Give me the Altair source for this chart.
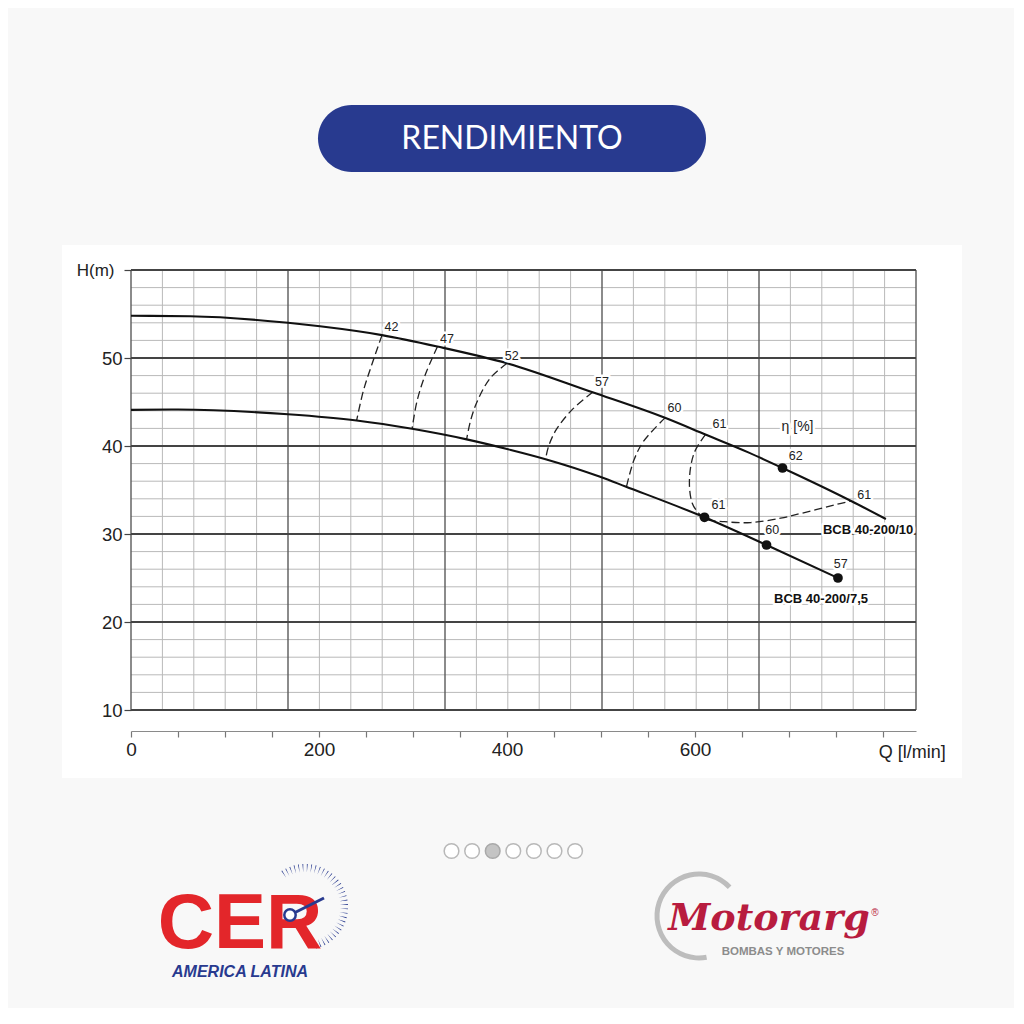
import altair as alt
import pandas as pd

# ---------------- data ----------------
# H-Q curve BCB 40-200/10 (upper)
Q_10 = [0, 63, 167, 201, 267, 326, 400, 491, 568, 611, 656, 693, 766, 803]
H_10 = [54.8, 54.75, 54.0, 53.6, 52.6, 51.3, 49.4, 46.1, 43.2, 41.3, 39.3, 37.5, 33.75, 31.7]
# H-Q curve BCB 40-200/7,5 (lower)
Q_75 = [0, 50, 167, 240, 299, 357, 404, 441, 499, 526, 610, 676, 752]
H_75 = [44.1, 44.15, 43.6, 42.9, 41.95, 40.75, 39.55, 38.5, 36.5, 35.4, 31.9, 28.75, 25.0]

# marked points
DOT_Q = [693, 610, 676, 752]
DOT_H = [37.5, 31.9, 28.75, 25.0]

# iso-efficiency (dashed) lines
ETA_LINES = {
    "42": ([267, 256, 247, 240], [52.6, 49.2, 46.2, 42.9]),
    "47": ([326, 313, 304, 299], [51.3, 48.1, 45.0, 41.95]),
    "52": ([400, 382, 368, 361, 357], [49.4, 47.7, 45.0, 42.8, 40.75]),
    "57": ([491, 469, 452, 444, 441], [46.1, 44.1, 41.8, 39.9, 38.5]),
    "60": ([568, 545, 535, 527], [43.2, 40.5, 38.4, 35.35]),
    "61": ([611, 599, 594, 597, 604, 611, 631, 659, 691, 713, 748, 766],
           [41.3, 39.2, 36.1, 33.5, 32.35, 31.7, 31.4, 31.3, 31.8, 32.35, 33.3, 33.75]),
}

# efficiency number labels
LABEL_TEXT = ["42", "47", "52", "57", "60", "61", "62", "61", "61", "60", "57"]
LABEL_Q = [277, 336, 405, 501, 578, 626, 707, 780, 625, 682, 755]
LABEL_H = [53.5, 52.2, 50.2, 47.3, 44.3, 42.5, 38.9, 34.4, 33.3, 30.45, 26.6]

CURVE_NAMES = ["BCB 40-200/10", "BCB 40-200/7,5"]
CURVE_LABEL_Q = [784, 734]
CURVE_LABEL_H = [30.45, 22.6]

ETA_TITLE = "η [%]"
ETA_TITLE_Q = [709]
ETA_TITLE_H = [42.2]

X_TITLE = "Q [l/min]"
X_TITLE_Q = [831]

X_TICKS = list(range(0, 801, 50))
Y_TICKS = [10, 20, 30, 40, 50, 60]
Q_MAX = 835
N_COLS = 25
V_GRID = [k * Q_MAX / N_COLS for k in range(N_COLS + 1)]
V_MAJOR = [k % 5 == 0 for k in range(N_COLS + 1)]
H_GRID = list(range(10, 61, 2))
H_MAJOR = [v % 10 == 0 for v in H_GRID]

PAGE_TITLE = "RENDIMIENTO"
PAGE_COUNT = 7
ACTIVE_PAGE = 2
DIAL_TICKS = [1] * 34

# ---------------- styling ----------------
FONT = "Liberation Sans"
NARROW = "Liberation Sans Narrow, Liberation Sans, sans-serif"
W, H = 785, 440
BLUE = "#283a8f"

xs = alt.Scale(domain=[0, Q_MAX], nice=False, zero=False)
ys = alt.Scale(domain=[10, 60], nice=False, zero=False)

x_axis = alt.Axis(values=X_TICKS, title=None, offset=21, zindex=2,
                  labelExpr="(datum.value % 200 == 0 && datum.value < 700) ? datum.label : ''",
                  domainColor="#8a8a8a", domainWidth=1.2, tickColor="#777", tickSize=6,
                  tickWidth=1.2, labelFont=FONT, labelFontSize=19, labelColor="#222",
                  labelPadding=3, grid=False, labelFlush=False, labelOverlap=False)
y_axis = alt.Axis(values=Y_TICKS, title=None, domain=False, zindex=2,
                  labelExpr="datum.value == 60 ? 'H(m)' : datum.label",
                  tickColor="#444", tickSize=7, tickWidth=1.2, labelFont=FONT,
                  labelFontSize=alt.condition("datum.value == 60", alt.value(17), alt.value(18.5)),
                  labelPadding=alt.condition("datum.value == 60", alt.value(10), alt.value(2)),
                  labelColor="#222", grid=False,
                  labelFlush=False, labelOverlap=False)


def X(f="q"):
    return alt.X(f"{f}:Q", scale=xs, axis=x_axis)


def Y(f="h"):
    return alt.Y(f"{f}:Q", scale=ys, axis=y_axis)


one = alt.Data(values=[{"a": 1}])

layers = []

# white panel
layers.append(alt.Chart(one).mark_rect(color="white").encode(
    x=alt.value(-69), x2=alt.value(831), y=alt.value(-25), y2=alt.value(508)))

# title banner
layers.append(alt.Chart(one).mark_rect(color=BLUE, cornerRadius=33.5).encode(
    x=alt.value(187), x2=alt.value(575), y=alt.value(-165), y2=alt.value(-98)))
layers.append(alt.Chart(one).mark_text(text=PAGE_TITLE, font="Lato", fontSize=32,
                                       color="white", align="center", baseline="middle").encode(
    x=alt.value(381), y=alt.value(-131)))

# grid
vg = pd.DataFrame({"q": V_GRID, "major": V_MAJOR})
hg = pd.DataFrame({"h": H_GRID, "major": H_MAJOR})
layers.append(alt.Chart(vg[~vg.major]).mark_rule(color="#b9b9b9", strokeWidth=1).encode(x=X()))
layers.append(alt.Chart(hg[~hg.major]).mark_rule(color="#b9b9b9", strokeWidth=1).encode(y=Y()))
layers.append(alt.Chart(vg[vg.major]).mark_rule(color="#5a5a5a", strokeWidth=1.4).encode(x=X()))
layers.append(alt.Chart(hg[hg.major]).mark_rule(color="#444", strokeWidth=1.8).encode(y=Y()))

# dashed iso-efficiency lines
rows = []
for name, (qs, hs) in ETA_LINES.items():
    for i, (q, h) in enumerate(zip(qs, hs)):
        rows.append({"eta": name, "i": i, "q": q, "h": h})
eta_df = pd.DataFrame(rows)
layers.append(alt.Chart(eta_df).mark_line(color="#222", strokeWidth=1.3, strokeDash=[8, 4],
                                          interpolate="catmull-rom").encode(
    x=X(), y=Y(), detail="eta:N", order="i:Q"))

# H-Q curves
curves = pd.concat([
    pd.DataFrame({"curve": CURVE_NAMES[0], "q": Q_10, "h": H_10}),
    pd.DataFrame({"curve": CURVE_NAMES[1], "q": Q_75, "h": H_75}),
])
layers.append(alt.Chart(curves).mark_line(color="#111", strokeWidth=2.1, interpolate="monotone").encode(
    x=X(), y=Y(), detail="curve:N"))

# dots
layers.append(alt.Chart(pd.DataFrame({"q": DOT_Q, "h": DOT_H})).mark_circle(
    color="#111", size=95, opacity=1).encode(x=X(), y=Y()))

# labels with white halo
lab = pd.DataFrame({"t": LABEL_TEXT, "q": LABEL_Q, "h": LABEL_H})
for halo in (True, False):
    kw = dict(stroke="white", strokeWidth=5, strokeJoin="round") if halo else {}
    layers.append(alt.Chart(lab).mark_text(font=FONT, fontSize=12.5, color="#222",
                                           align="center", baseline="middle", **kw).encode(
        x=X(), y=Y(), text="t:N"))
    layers.append(alt.Chart(pd.DataFrame({"t": [ETA_TITLE], "q": ETA_TITLE_Q, "h": ETA_TITLE_H}))
                  .mark_text(font=FONT, fontSize=14, color="#222", align="center",
                             baseline="middle", **kw).encode(x=X(), y=Y(), text="t:N"))
    layers.append(alt.Chart(pd.DataFrame({"t": CURVE_NAMES, "q": CURVE_LABEL_Q, "h": CURVE_LABEL_H}))
                  .mark_text(font=NARROW, fontSize=13, fontWeight="bold", color="#111",
                             align="center", baseline="middle", **kw).encode(
        x=X(), y=Y(), text="t:N"))

# x axis title at the right end of the ruler
layers.append(alt.Chart(pd.DataFrame({"t": [X_TITLE], "q": X_TITLE_Q})).mark_text(
    font=FONT, fontSize=18, color="#222", align="center", baseline="middle").encode(
    x=X(), y=alt.value(483), text="t:N"))

# pagination dots
for i in range(PAGE_COUNT):
    active = i == ACTIVE_PAGE
    layers.append(alt.Chart(one).mark_point(
        shape="circle", size=215, filled=True,
        fill="#c4c4c4" if active else "#ffffff",
        stroke="#a9a9a9" if active else "#b8b8b8", strokeWidth=1.5, opacity=1).encode(
        x=alt.value(320.5 + 20.6 * i), y=alt.value(581)))

# CER logo
layers.append(alt.Chart(pd.DataFrame({"v": DIAL_TICKS})).mark_arc(
    innerRadius=35, outerRadius=43, padAngle=0.065, color=BLUE).encode(
    theta=alt.Theta("v:Q", stack=True, scale=alt.Scale(range=[5.66, 9.2])),
    x=alt.value(174), y=alt.value(637)))
layers.append(alt.Chart(one).mark_text(text="CER", font=NARROW, fontSize=78, fontWeight="bold",
                                       color="#e3262a", align="center", baseline="alphabetic").encode(
    x=alt.value(109), y=alt.value(678)))
layers.append(alt.Chart(one).mark_rule(color=BLUE, strokeWidth=3).encode(
    x=alt.value(159), y=alt.value(645), x2=alt.value(193), y2=alt.value(628)))
layers.append(alt.Chart(one).mark_point(shape="circle", size=130, filled=True, fill="white",
                                        stroke=BLUE, strokeWidth=2.5, opacity=1).encode(
    x=alt.value(159), y=alt.value(645)))
layers.append(alt.Chart(one).mark_text(text="AMERICA LATINA", font=FONT, fontSize=16,
                                       fontWeight="bold", fontStyle="italic",
                                       color=BLUE, align="center", baseline="alphabetic").encode(
    x=alt.value(109), y=alt.value(707)))

# Motorarg logo
layers.append(alt.Chart(one).mark_arc(theta=2.96, theta2=7.1, innerRadius=39.5, outerRadius=44.5,
                                      color="#bdbdbd").encode(x=alt.value(568), y=alt.value(646)))
layers.append(alt.Chart(one).mark_text(text="Motorarg", font="DejaVu Serif", fontSize=38,
                                       fontWeight="bold", fontStyle="italic", color="#b81c3f",
                                       align="center", baseline="alphabetic").encode(
    x=alt.value(638), y=alt.value(660)))
layers.append(alt.Chart(one).mark_text(text="®", font=FONT, fontSize=10, color="#b81c3f",
                                       align="center", baseline="middle").encode(
    x=alt.value(744), y=alt.value(643)))
layers.append(alt.Chart(one).mark_text(text="BOMBAS Y MOTORES", font=NARROW, fontSize=11.5,
                                       fontWeight="bold", color="#8c8c8c", align="center",
                                       baseline="alphabetic").encode(
    x=alt.value(652), y=alt.value(685)))

chart = alt.layer(*layers).properties(
    width=W, height=H,
    autosize=alt.AutoSizeParams(type="none"),
    padding={"left": 123, "top": 262, "right": 98, "bottom": 298},
    background="#f8f8f8",
).configure_view(stroke=None)

chart.save("out.html", embed_options={"renderer": "svg", "actions": False})
